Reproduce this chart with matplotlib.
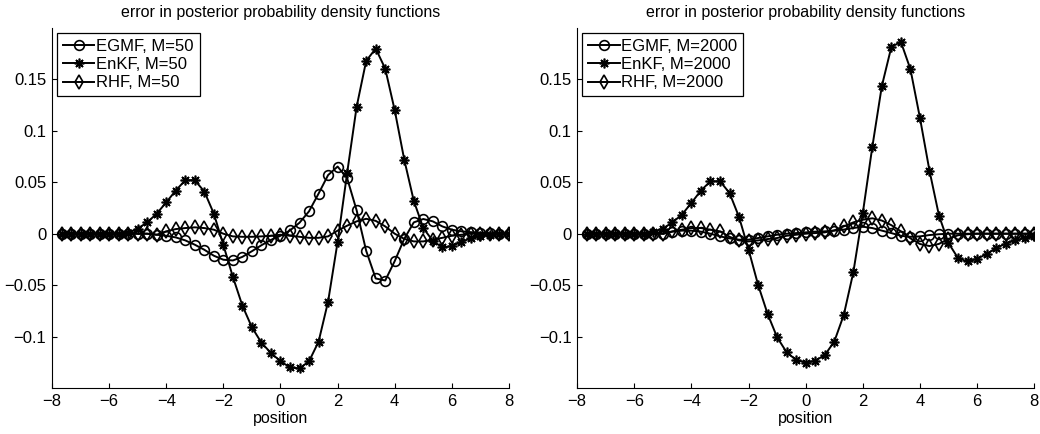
import numpy as np
import matplotlib
matplotlib.use('Agg')
import matplotlib.pyplot as plt

plt.rcParams['font.family'] = ['Liberation Sans', 'DejaVu Sans']

# grid of positions (48 points between -8 and 8)
position = np.linspace(-8 + 1/3, 8, 48)

# left panel, M=50
egmf_50 = [0, 0, 0, 0, 0, 0, 0, 0, 0, 0,
           -0.001, -0.002, -0.0036, -0.0065, -0.0107, -0.0156, -0.0214, -0.0253,
           -0.026, -0.0225, -0.017, -0.0112, -0.006, -0.002, 0.0032, 0.0107,
           0.0218, 0.039, 0.057, 0.0653, 0.054, 0.0227, -0.0166, -0.0435,
           -0.0455, -0.0266, -0.005, 0.011, 0.0143, 0.012, 0.0071, 0.0039,
           0.0023, 0.0015, 0.001, 0.0005, 0, 0]
enkf_50 = [0, 0, 0, 0, 0, 0, 0, 0.001,
           0.005, 0.011, 0.0195, 0.0305, 0.042, 0.052, 0.052, 0.041, 0.0195,
           -0.011, -0.042, -0.070, -0.091, -0.106, -0.116, -0.124, -0.130,
           -0.131, -0.124, -0.105, -0.066, -0.008, 0.059, 0.1235, 0.168,
           0.180, 0.1605, 0.120, 0.072, 0.032, 0.0055, -0.007, -0.0133,
           -0.012, -0.008, -0.0045, -0.002, -0.001, 0, 0]
rhf_50 = [0, 0, 0, 0, 0, 0, 0, 0, 0, 0,
          -0.001, 0.0023, 0.0045, 0.0055, 0.0062, 0.0055, 0.0039, 0.0,
          -0.0026, -0.003, -0.003, -0.0026, -0.002, -0.001, -0.002, -0.003,
          -0.004, -0.004, -0.0026, 0.003, 0.0078, 0.012, 0.0145, 0.0125,
          0.0071, 0.0, -0.005, -0.0075, -0.0075, -0.0058, -0.004, -0.002,
          -0.001, 0, 0, 0, 0, 0]

# right panel, M=2000
egmf_2000 = [0, 0, 0, 0, 0, 0, 0, 0, 0,
             0.002, 0.003, 0.003, 0.002, 0, -0.0026, -0.0045, -0.0058, -0.0058,
             -0.0042, -0.0026, -0.001, 0, 0.0006, 0.0013, 0.002, 0.0023,
             0.003, 0.004, 0.0055, 0.0068, 0.0055, 0.003, 0.0006, -0.002,
             -0.003, -0.0026, -0.0013, -0.0005, 0, 0, 0, 0,
             0, 0, 0, 0, 0, 0]
enkf_2000 = [0, 0, 0, 0, 0, 0, 0, 0.002,
             0.005, 0.011, 0.0185, 0.030, 0.042, 0.051, 0.051, 0.0396, 0.0162,
             -0.0155, -0.0497, -0.078, -0.1007, -0.1153, -0.1228, -0.1254, -0.1235,
             -0.118, -0.105, -0.079, -0.0377, 0.0201, 0.0845, 0.1436, 0.1816,
             0.1865, 0.160, 0.1127, 0.0614, 0.0177, -0.0091, -0.0237, -0.027,
             -0.0244, -0.0198, -0.014, -0.0097, -0.0065, -0.0042, -0.002]
rhf_2000 = [0, 0, 0, 0, 0, 0, 0, 0, 0,
            0.0023, 0.0039, 0.0055, 0.0055, 0.0039, 0.0023, -0.003, -0.0065, -0.0075,
            -0.0065, -0.0052, -0.0042, -0.002, -0.001, 0, 0.0006, 0.0013,
            0.0032, 0.0071, 0.011, 0.0136, 0.015, 0.0128, 0.0083, 0.0023,
            -0.0045, -0.010, -0.012, -0.0099, -0.005, -0.0015, -0.0005, 0,
            0, 0, 0, 0, 0, 0]

panels = [(50, egmf_50, enkf_50, rhf_50), (2000, egmf_2000, enkf_2000, rhf_2000)]

xticks = [-8, -6, -4, -2, 0, 2, 4, 6, 8]
yticks = [-0.1, -0.05, 0, 0.05, 0.1, 0.15]
ytick_labels = ['\u22120.1', '\u22120.05', '0', '0.05', '0.1', '0.15']
xtick_labels = [('\u2212' + str(-t)) if t < 0 else str(t) for t in xticks]

fig = plt.figure(figsize=(10.4, 4.34), dpi=100)
lefts = [0.05, 0.555]
star = (8, 2, 0)

for left, (M, egmf, enkf, rhf) in zip(lefts, panels):
    ax = fig.add_axes([left, 0.106, 0.4394, 0.8295])
    ax.plot(position, egmf, '-', color='k', lw=1.4, marker='o', ms=7,
            mfc='none', mec='k', mew=1.2, label='EGMF, M=%d' % M)
    ax.plot(position, enkf, '-', color='k', lw=1.4, marker=star, ms=7,
            mec='k', mew=1.2, label='EnKF, M=%d' % M)
    ax.plot(position, rhf, '-', color='k', lw=1.4, marker='d', ms=7.5,
            mfc='none', mec='k', mew=1.2, label='RHF, M=%d' % M)
    ax.set_xlim(-8, 8)
    ax.set_ylim(-0.15, 0.2)
    ax.set_xticks(xticks)
    ax.set_xticklabels(xtick_labels)
    ax.set_yticks(yticks)
    ax.set_yticklabels(ytick_labels)
    ax.tick_params(direction='in', length=3.5, width=0.8, labelsize=12, pad=4)
    ax.spines['top'].set_visible(False)
    ax.spines['right'].set_visible(False)
    ax.set_xlabel('position', fontsize=11.5, labelpad=2)
    ax.set_title('error in posterior probability density functions', fontsize=11.5, pad=8)
    leg = ax.legend(loc='upper left', fontsize=12, handlelength=1.9, handletextpad=0.1,
                    borderpad=0.35, labelspacing=0.2, borderaxespad=0.3, fancybox=False,
                    framealpha=1)
    leg.get_frame().set_edgecolor('k')
    leg.get_frame().set_linewidth(0.9)

fig.savefig('out.png', dpi=100)
